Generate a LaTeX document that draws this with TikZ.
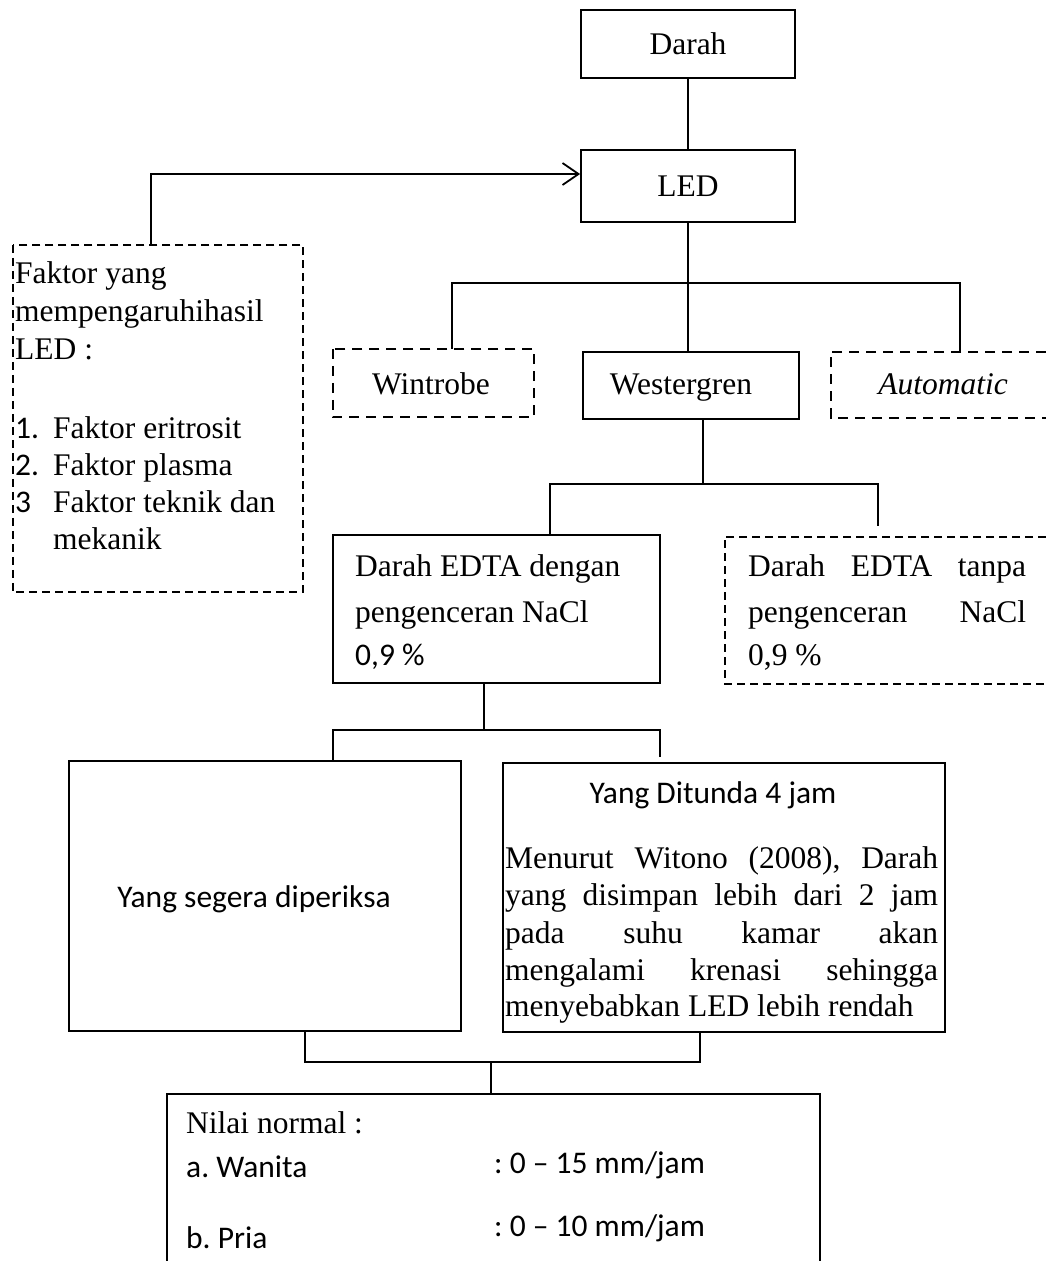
\documentclass[tikz,border=0pt]{standalone}
\usepackage{fontspec}
\setmainfont{Liberation Serif}
\newfontfamily\calib{Carlito}
\usetikzlibrary{arrows.meta}
\frenchspacing
\begin{document}
\begin{tikzpicture}[x=1pt,y=-1pt,
  solidbox/.style={draw, line width=1.8pt, inner sep=0pt},
  ghost/.style={draw=none, inner sep=0pt},
  dashA/.style={line width=2pt, dash pattern=on 10pt off 7pt},
  dashB/.style={line width=1.8pt, dash pattern=on 8pt off 5pt},
  conn/.style={line width=1.5pt},
  txt/.style={inner sep=0pt, anchor=base west, font=\fontsize{31.5}{37}\selectfont\frenchspacing},
  ctxt/.style={inner sep=0pt, anchor=base, font=\fontsize{31.5}{37}\selectfont\frenchspacing},
  font=\fontsize{31.5}{37}\selectfont]
\useasboundingbox (0,0) rectangle (1046,1261);

% boxes
\node[solidbox, minimum width=214pt, minimum height=68pt] (darah) at (688,44) {Darah};
\node[solidbox, minimum width=214pt, minimum height=72pt] (led) at (688,186) {LED};
\node[ghost, minimum width=290pt, minimum height=347pt] (fac) at (158,418.5) {};
\draw[dashB] (fac.north west) rectangle (fac.south east);
\node[ghost, minimum width=201pt, minimum height=68pt] (win) at (433.5,383) {};
\draw[dashA] (win.north west) rectangle (win.south east);
\node[ctxt] (winT) at (431,394) {Wintrobe};
\node[solidbox, minimum width=216pt, minimum height=67pt] (west) at (691,385.5) {};
\node[ctxt] (westT) at (681,394) {Westergren};
\node[ghost, minimum width=215pt, minimum height=66pt] (auto) at (938.5,385) {};
\draw[dashA] (auto.north east) -- (auto.north west) -- (auto.south west) -- (auto.south east);
\node[ctxt] (autoT) at (943,394) {\itshape Automatic};

\node[solidbox, minimum width=327pt, minimum height=148pt] (edtaL) at (496.5,609) {};
\node[ghost, minimum width=321pt, minimum height=147pt] (edtaR) at (885.5,610.5) {};
\draw[dashB] (edtaR.north east) -- (edtaR.north west) -- (edtaR.south west) -- (edtaR.south east);

\node[solidbox, minimum width=392pt, minimum height=270pt] (segera) at (265,896) {};
\node[solidbox, minimum width=442pt, minimum height=269pt] (ditunda) at (724,897.5) {};
\node[ghost, minimum width=653pt, minimum height=167pt] (nilai) at (493.5,1177.5) {};
\draw[line width=1.8pt] (nilai.south west) -- (nilai.north west) -- (nilai.north east) -- (nilai.south east);

% texts: factor box
\node[txt] (f1) at (15,283) {Faktor yang};
\node[txt] (f2) at (15,321) {mempengaruhihasil};
\node[txt] (f3) at (15,359) {LED :};
\node[txt] (n1) at (15,438) {\calib 1.};
\node[txt] (f4) at (53,438) {Faktor eritrosit};
\node[txt] (n2) at (15,475) {\calib 2.};
\node[txt] (f5) at (53,475) {Faktor plasma};
\node[txt] (n3) at (15,512) {\calib 3};
\node[txt] (f6) at (53,512) {Faktor teknik dan};
\node[txt] (f7) at (53,549) {mekanik};

% EDTA texts
\node[txt] (eL1) at (355,576) {Darah EDTA dengan};
\node[txt] (eL2) at (355,622) {pengenceran NaCl};
\node[txt] (eL3) at (355,665) {\calib 0,9 \%};
\node[txt] (eR1) at (748,576) {\makebox[278pt][s]{Darah EDTA tanpa}};
\node[txt] (eR2) at (748,622) {\makebox[278pt][s]{pengenceran NaCl}};
\node[txt] (eR3) at (748,665) {0,9 \%};

% lower boxes texts
\node[ctxt] (segT) at (254,907) {\calib Yang segera diperiksa};
\node[ctxt] (dtT) at (713,803) {\calib Yang Ditunda 4 jam};
\node[txt] (d1) at (505,868) {\makebox[433pt][s]{Menurut Witono (2008), Darah}};
\node[txt] (d2) at (505,905) {\makebox[433pt][s]{yang disimpan lebih dari 2 jam}};
\node[txt] (d3) at (505,943) {\makebox[433pt][s]{pada suhu kamar akan}};
\node[txt] (d4) at (505,980) {\makebox[433pt][s]{mengalami krenasi sehingga}};
\node[txt] (d5) at (505,1016) {menyebabkan LED lebih rendah};

% nilai texts
\node[txt] (nn) at (186,1133) {Nilai normal :};
\node[txt] (wa) at (186,1177) {\calib a. Wanita};
\node[txt] (wv) at (494,1173) {\calib : 0 – 15 mm/jam};
\node[txt] (pr) at (186,1248) {\calib b. Pria};
\node[txt] (pv) at (494,1236) {\calib : 0 – 10 mm/jam};

% connectors
\draw[conn] (darah.south) -- (led.north);
\coordinate (aX) at (151,0);
\draw[conn, line width=1.8pt, -{Straight Barb[length=16pt,width=22pt]}] (fac.north -| aX) |- ([yshift=12pt]led.west);

\coordinate (wl) at (452,283);
\coordinate (wr) at (960,283);
\draw[conn] (led.south) -- (led.south |- west.north);
\draw[conn] (wl |- win.north) -- (wl) -- (wr) -- (wr |- auto.north);

\coordinate (j2) at (703,484);
\coordinate (el) at (550,484);
\coordinate (er) at (878,484);
\coordinate (erEnd) at (878,526);
\draw[conn] (j2 |- west.south) -- (j2);
\draw[conn] (el |- edtaL.north) -- (el) -- (er) -- (erEnd);

\coordinate (k1) at (484,730);
\coordinate (kl) at (333,730);
\coordinate (kr) at (660,730);
\coordinate (krEnd) at (660,757);
\draw[conn] (k1 |- edtaL.south) -- (k1);
\draw[conn] (kl |- segera.north) -- (kl) -- (kr) -- (krEnd);

\coordinate (ml) at (305,1062);
\coordinate (mr) at (700,1062);
\coordinate (mc) at (491,1062);
\draw[conn] (ml |- segera.south) -- (ml) -- (mr) -- (mr |- ditunda.south);
\draw[conn] (mc) -- (mc |- nilai.north);
\end{tikzpicture}
\end{document}
